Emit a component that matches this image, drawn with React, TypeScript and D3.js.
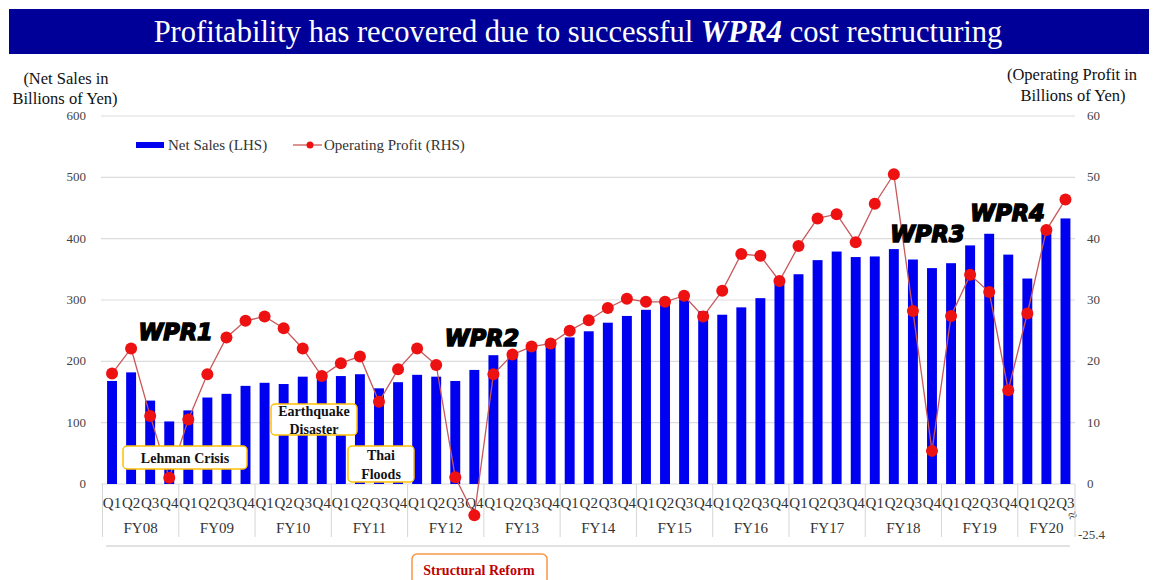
import * as d3 from 'd3';

// fiscal years and quarters on the category axis
const fiscalYears = ['FY08', 'FY09', 'FY10', 'FY11', 'FY12', 'FY13', 'FY14', 'FY15', 'FY16', 'FY17', 'FY18', 'FY19', 'FY20'];
const quarters = ['Q1', 'Q2', 'Q3', 'Q4'];

// Net Sales (LHS, billions of yen), FY08 Q1 .. FY20 Q3
const netSales = [
  168, 182, 136, 102,
  120, 141, 147, 160,
  165, 163, 175, 174,
  176, 179, 156, 166,
  178, 175, 168, 186,
  210, 215, 222, 226,
  239, 249, 263, 274,
  284, 292, 301, 282,
  276, 288, 303, 328,
  342, 365, 379, 370,
  371, 383, 366, 352,
  360, 389, 408, 374,
  335, 411, 433,
];

// Operating Profit (RHS, billions of yen)
const operatingProfit = [
  18.0, 22.1, 11.1, 1.0,
  10.5, 17.9, 23.9, 26.6,
  27.3, 25.4, 22.1, 17.6,
  19.7, 20.8, 13.4, 18.7,
  22.1, 19.4, 1.1, -25.4,
  17.9, 21.1, 22.4, 22.9,
  25.0, 26.7, 28.7, 30.2,
  29.7, 29.7, 30.7, 27.3,
  31.5, 37.5, 37.2, 33.1,
  38.8, 43.3, 44.0, 39.4,
  45.7, 50.5, 28.2, 5.4,
  27.4, 34.1, 31.3, 15.3,
  27.8, 41.4, 46.4,
];

const leftTicks = [0, 100, 200, 300, 400, 500, 600];
const rightTicks = [0, 10, 20, 30, 40, 50, 60];

// restructuring plan labels: position along the quarter axis, height on the LHS scale
const wprLabels = [
  { text: 'WPR1', at: 3.33, value: 250 },
  { text: 'WPR2', at: 19.4, value: 239 },
  { text: 'WPR3', at: 42.76, value: 410 },
  { text: 'WPR4', at: 46.96, value: 443 },
];

const W = 1154;
const H = 580;
const plotLeft = 102.5;
const plotRight = 1075;
const plotTop = 116;
const plotBottom = 484;
const brokenFloor = -5.1; // values below this are drawn on the axis break

const serif = '"Liberation Serif", "Times New Roman", serif';
const n = netSales.length;
const categories = d3.range(n).map((i) => `${fiscalYears[Math.floor(i / 4)]} ${quarters[i % 4]}`);

export default function App() {
  const x = d3.scaleBand<string>().domain(categories).range([plotLeft, plotRight]);
  const bw = x.bandwidth();
  const cx = (i: number) => (x(categories[i]) as number) + bw / 2;
  const yL = d3.scaleLinear().domain([0, 600]).range([plotBottom, plotTop]);
  const yR = d3.scaleLinear().domain([0, 60]).range([plotBottom, plotTop]);
  const shown = (v: number) => Math.max(v, brokenFloor);

  const line = d3
    .line<number>()
    .x((_, i) => cx(i))
    .y((d) => yR(shown(d)));

  const barW = bw * 0.52;
  const groups = fiscalYears.map((fy, k) => {
    const first = k * 4;
    const last = Math.min(first + 3, n - 1);
    return { fy, x0: x(categories[first]) as number, x1: (x(categories[last]) as number) + bw };
  });

  return (
    <svg width={W} height={H} style={{ position: 'absolute', left: 0, top: 0, background: '#fff' }}>
      {/* title banner */}
      <rect x={9} y={9} width={1140} height={45} fill="#000099" />
      <text x={578} y={42} textAnchor="middle" fill="#fff" fontFamily={serif} fontSize={30.5}>
        Profitability has recovered due to successful{' '}
        <tspan fontWeight="bold" fontStyle="italic">WPR4</tspan> cost restructuring
      </text>

      {/* axis titles */}
      <g fontFamily={serif} fontSize={16.5} fill="#111" textAnchor="middle">
        <text x={66} y={84}>(Net Sales in</text>
        <text x={65} y={104}>Billions of Yen)</text>
        <text x={1072} y={80}>(Operating Profit in</text>
        <text x={1073} y={101}>Billions of Yen)</text>
      </g>

      {/* gridlines */}
      {leftTicks.map((t) => (
        <line key={t} x1={101} x2={plotRight} y1={yL(t)} y2={yL(t)} stroke="#dcdcdc" strokeWidth={1.2} />
      ))}

      {/* tick labels */}
      <g fontFamily={serif} fontSize={13} fill="#444">
        {leftTicks.map((t) => (
          <text key={t} x={86} y={yL(t) + 4} textAnchor="end">{t}</text>
        ))}
        {rightTicks.map((t) => (
          <text key={t} x={1087} y={yR(t) + 4}>{t}</text>
        ))}
        <text x={1078} y={539}>-25.4</text>
        <text x={1068} y={519} fontSize={16} transform="rotate(-20 1077 514)">≈</text>
      </g>

      {/* bars */}
      {netSales.map((v, i) => (
        <rect key={i} x={cx(i) - barW / 2} y={yL(v)} width={barW} height={yL(0) - yL(v)} fill="#0000F0" />
      ))}

      {/* category axis */}
      <g fontFamily={serif} fontSize={15} fill="#333" textAnchor="middle">
        {groups.map((g) => (
          <g key={g.fy}>
            <line x1={g.x0} x2={g.x0} y1={plotBottom} y2={537} stroke="#d6d6d6" />
            <text x={(g.x0 + g.x1) / 2} y={533}>{g.fy}</text>
          </g>
        ))}
        <line x1={plotRight} x2={plotRight} y1={plotBottom} y2={537} stroke="#d6d6d6" />
        {categories.map((c, i) => (
          <text key={c} x={cx(i)} y={507.5}>{quarters[i % 4]}</text>
        ))}
      </g>
      <line x1={106} x2={1070} y1={546} y2={546} stroke="#e2e2e2" strokeWidth={2} />

      {/* operating profit line */}
      <path d={line(operatingProfit) ?? ''} fill="none" stroke="#c8585a" strokeWidth={1.3} />
      {operatingProfit.map((v, i) => (
        <circle key={i} cx={cx(i)} cy={yR(shown(v))} r={6} fill="#ee1111" />
      ))}

      {/* legend */}
      <rect x={136} y={142} width={28} height={6} fill="#0000F0" />
      <text x={168} y={150} fontFamily={serif} fontSize={15} fill="#333">Net Sales (LHS)</text>
      <line x1={293} x2={322} y1={145} y2={145} stroke="#c8585a" strokeWidth={1.3} />
      <circle cx={310} cy={145} r={3.5} fill="#ee1111" />
      <text x={324} y={150} fontFamily={serif} fontSize={15} fill="#333">Operating Profit (RHS)</text>

      {/* event boxes */}
      <g fontFamily={serif} fontSize={14} fontWeight="bold" fill="#111" textAnchor="middle">
        <rect x={123} y={446} width={124} height={23} rx={4} fill="#fff" stroke="#FFC000" strokeWidth={1.5} />
        <text x={185} y={463}>Lehman Crisis</text>
        <rect x={271} y={404} width={86} height={31} rx={4} fill="#fff" stroke="#FFC000" strokeWidth={1.5} />
        <text x={314} y={416}>Earthquake</text>
        <text x={314} y={434}>Disaster</text>
        <rect x={348} y={446} width={66} height={36} rx={4} fill="#fff" stroke="#FFC000" strokeWidth={1.5} />
        <text x={381} y={460}>Thai</text>
        <text x={381} y={479}>Floods</text>
        <rect x={412} y={554} width={135} height={34} rx={5} fill="#fff" stroke="#F79646" strokeWidth={1.5} />
        <text x={479} y={575} fill="#C00000">Structural Reform</text>
      </g>

      {/* WPR labels */}
      <g fontFamily='"DejaVu Sans", sans-serif' fontSize={22.5} fontWeight="bold" fontStyle="italic" fill="#000" stroke="#000" strokeWidth={1.6} textAnchor="middle">
        {wprLabels.map((w) => (
          <text key={w.text} x={plotLeft + (w.at + 0.5) * bw} y={yL(w.value) + 9}>{w.text}</text>
        ))}
      </g>
    </svg>
  );
}
